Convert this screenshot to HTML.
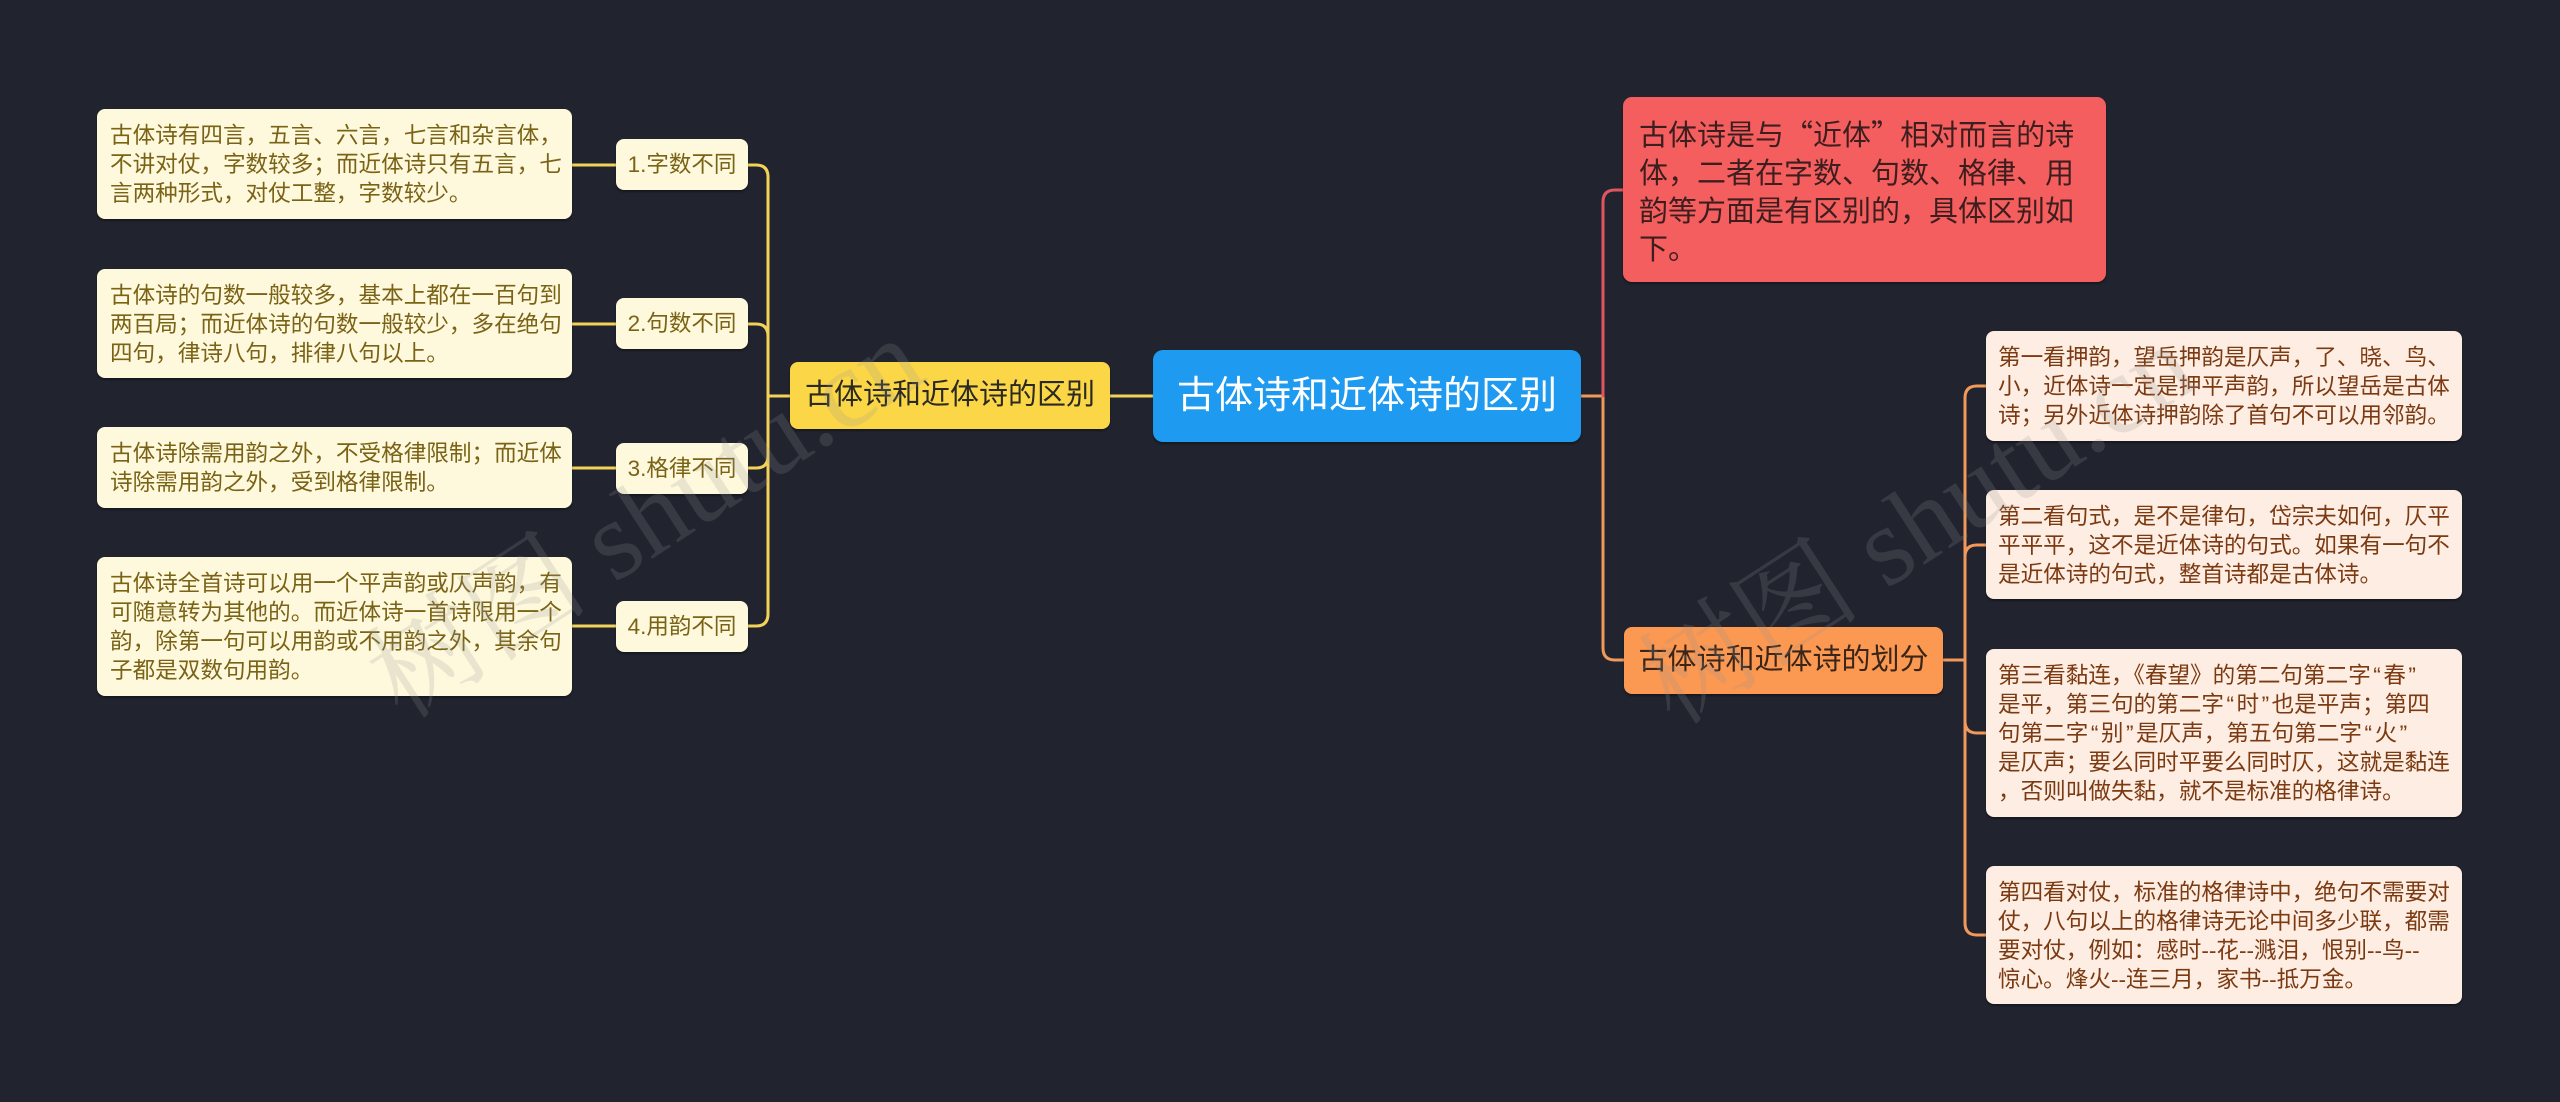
<!DOCTYPE html>
<html>
<head>
<meta charset="utf-8">
<style>
  html, body { margin:0; padding:0; }
  body { width:2560px; height:1102px; background:#21242f; position:relative; overflow:hidden;
         font-family:"Liberation Sans","Noto Sans CJK SC",sans-serif; }
  svg.lines { position:absolute; left:0; top:0; }
  .box { position:absolute; box-sizing:border-box; box-shadow:0 2px 2px rgba(0,0,0,0.35); }
  .center { left:1153px; top:350px; width:428px; height:92px; background:#1e9af0; border-radius:10px;
            color:#ffffff; font-size:38px; line-height:92px; text-align:center; white-space:nowrap; }
  .yel { left:790px; top:362px; width:320px; height:67px; background:#fbd647; border-radius:8px;
         color:#2b2a22; font-size:29px; line-height:67px; text-align:center; white-space:nowrap; }
  .red { left:1623px; top:97px; width:483px; height:185px; background:#f55e5e; border-radius:9px;
         color:#3d1e1e; font-size:29px; line-height:38px; padding:17px 0 0 16px; white-space:nowrap; }
  .red .q { font-family:"Noto Sans CJK SC",sans-serif; }
  .org { left:1624px; top:627px; width:319px; height:67px; background:#fb9852; border-radius:8px;
         color:#3a2518; font-size:29px; line-height:67px; text-align:center; white-space:nowrap; }
  .sub { left:616px; width:132px; height:51px; background:#fef8dc; border-radius:8px;
         color:#7a6316; font-size:22.5px; line-height:51px; text-align:center; white-space:nowrap; }
  .lleaf { left:97px; width:475px; background:#fef8dc; border-radius:8px; color:#7a6316;
           font-size:22.6px; line-height:29px; padding:12px 0 0 13px; white-space:nowrap; }
  .rleaf { left:1986px; width:476px; background:#fdede2; border-radius:8px; color:#7c3a12;
           font-size:22.6px; line-height:29px; padding:12px 0 0 12px; white-space:nowrap; }
  .rleaf .q { padding:0 2.5px; }
  .wm { position:absolute; transform:translate(-50%,-50%) rotate(-33deg); white-space:nowrap;
        font-family:"Liberation Serif","Noto Serif CJK SC",serif; font-size:112px; color:rgba(150,150,150,0.2);
        pointer-events:none; }
</style>
</head>
<body>
<svg class="lines" width="2560" height="1102" viewBox="0 0 2560 1102" fill="none" stroke-width="3" stroke-linecap="round">
  <!-- left main -->
  <path d="M1154 396 H1110" stroke="#f3d25a"/>
  <path d="M790 396 H768 V177 Q768 165 756 165 H747" stroke="#f3d25a"/>
  <path d="M790 396 H768 V336 Q768 324 756 324 H747" stroke="#f3d25a"/>
  <path d="M790 396 H768 V456 Q768 468 756 468 H747" stroke="#f3d25a"/>
  <path d="M790 396 H768 V614 Q768 626 756 626 H747" stroke="#f3d25a"/>
  <path d="M616 165 H572" stroke="#f3d25a"/>
  <path d="M616 324 H572" stroke="#f3d25a"/>
  <path d="M616 468 H572" stroke="#f3d25a"/>
  <path d="M616 626 H572" stroke="#f3d25a"/>
  <!-- right main -->
  <path d="M1581 396 H1603 V648 Q1603 660 1615 660 H1624" stroke="#f0995a"/>
  <path d="M1603 396 V202 Q1603 190 1615 190 H1623" stroke="#de5660"/>
  <!-- orange children -->
  <path d="M1943 660 H1965 V398 Q1965 386 1977 386 H1986" stroke="#f0995a"/>
  <path d="M1943 660 H1965 V557 Q1965 545 1977 545 H1986" stroke="#f0995a"/>
  <path d="M1943 660 H1965 V721 Q1965 733 1977 733 H1986" stroke="#f0995a"/>
  <path d="M1943 660 H1965 V923 Q1965 935 1977 935 H1986" stroke="#f0995a"/>
</svg>

<div class="box center">古体诗和近体诗的区别</div>
<div class="box yel">古体诗和近体诗的区别</div>

<div class="box sub" style="top:139px;">1.字数不同</div>
<div class="box sub" style="top:298px;">2.句数不同</div>
<div class="box sub" style="top:443px;">3.格律不同</div>
<div class="box sub" style="top:601px;">4.用韵不同</div>

<div class="box lleaf" style="top:109px;height:110px;">古体诗有四言，五言、六言，七言和杂言体，<br>不讲对仗，字数较多；而近体诗只有五言，七<br>言两种形式，对仗工整，字数较少。</div>
<div class="box lleaf" style="top:269px;height:109px;">古体诗的句数一般较多，基本上都在一百句到<br>两百局；而近体诗的句数一般较少，多在绝句<br>四句，律诗八句，排律八句以上。</div>
<div class="box lleaf" style="top:427px;height:81px;">古体诗除需用韵之外，不受格律限制；而近体<br>诗除需用韵之外，受到格律限制。</div>
<div class="box lleaf" style="top:557px;height:139px;">古体诗全首诗可以用一个平声韵或仄声韵，有<br>可随意转为其他的。而近体诗一首诗限用一个<br>韵，除第一句可以用韵或不用韵之外，其余句<br>子都是双数句用韵。</div>

<div class="box red">古体诗是与<span class="q">“</span>近体<span class="q">”</span>相对而言的诗<br>体，二者在字数、句数、格律、用<br>韵等方面是有区别的，具体区别如<br>下。</div>
<div class="box org">古体诗和近体诗的划分</div>

<div class="box rleaf" style="top:331px;height:110px;">第一看押韵，望岳押韵是仄声，了、晓、鸟、<br>小，近体诗一定是押平声韵，所以望岳是古体<br>诗；另外近体诗押韵除了首句不可以用邻韵。</div>
<div class="box rleaf" style="top:490px;height:109px;">第二看句式，是不是律句，岱宗夫如何，仄平<br>平平平，这不是近体诗的句式。如果有一句不<br>是近体诗的句式，整首诗都是古体诗。</div>
<div class="box rleaf" style="top:649px;height:168px;">第三看黏连，《春望》的第二句第二字<span class="q">“</span>春<span class="q">”</span><br>是平，第三句的第二字<span class="q">“</span>时<span class="q">”</span>也是平声；第四<br>句第二字<span class="q">“</span>别<span class="q">”</span>是仄声，第五句第二字<span class="q">“</span>火<span class="q">”</span><br>是仄声；要么同时平要么同时仄，这就是黏连<br>，否则叫做失黏，就不是标准的格律诗。</div>
<div class="box rleaf" style="top:866px;height:138px;">第四看对仗，标准的格律诗中，绝句不需要对<br>仗，八句以上的格律诗无论中间多少联，都需<br>要对仗，例如：感时--花--溅泪，恨别--鸟--<br>惊心。烽火--连三月，家书--抵万金。</div>

<div class="wm" style="left:640px;top:510px;">树图 shutu.cn</div>
<div class="wm" style="left:1912px;top:516px;">树图 shutu.cn</div>
</body>
</html>
